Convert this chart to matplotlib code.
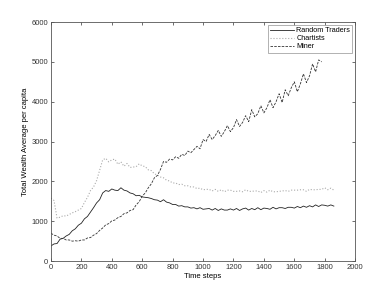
import matplotlib
matplotlib.use("Agg")
import matplotlib.pyplot as plt

plt.rcParams['font.family'] = ['Liberation Sans', 'DejaVu Sans']

# time steps (every 20)
t = list(range(0, 1861, 20))

random_traders = [
    380, 430, 440, 550, 570, 630, 670, 760, 810, 900,            # 0-180
    950, 1060, 1120, 1230, 1340, 1460, 1540, 1710, 1770, 1750,   # 200-380
    1810, 1780, 1770, 1840, 1780, 1760, 1710, 1690, 1640, 1650,  # 400-580
    1610, 1600, 1590, 1570, 1540, 1530, 1490, 1540, 1480, 1460,  # 600-780
    1420, 1420, 1380, 1390, 1360, 1360, 1330, 1340, 1310, 1340,  # 800-980
    1300, 1310, 1320, 1280, 1320, 1270, 1310, 1280, 1280, 1310,  # 1000-1180
    1280, 1320, 1270, 1310, 1330, 1280, 1320, 1290, 1340, 1290,  # 1200-1380
    1330, 1320, 1300, 1350, 1310, 1340, 1340, 1320, 1350, 1350,  # 1400-1580
    1330, 1370, 1340, 1380, 1350, 1390, 1360, 1410, 1370, 1410,  # 1600-1780
    1400, 1380, 1410, 1380,                                      # 1800-1860
]

chartists = [
    1580, 1520, 1080, 1100, 1140, 1130, 1170, 1210, 1240, 1280,  # 0-180
    1320, 1470, 1600, 1770, 1860, 2020, 2280, 2540, 2580, 2490,  # 200-380
    2540, 2560, 2430, 2490, 2380, 2450, 2350, 2360, 2370, 2440,  # 400-580
    2390, 2370, 2290, 2270, 2190, 2160, 2110, 2090, 2030, 2010,  # 600-780
    1960, 1960, 1920, 1930, 1890, 1890, 1860, 1860, 1820, 1830,  # 800-980
    1790, 1800, 1800, 1760, 1800, 1750, 1790, 1740, 1780, 1780,  # 1000-1180
    1750, 1750, 1760, 1740, 1790, 1750, 1750, 1760, 1760, 1720,  # 1200-1380
    1770, 1730, 1780, 1740, 1740, 1750, 1760, 1770, 1750, 1780,  # 1400-1580
    1780, 1780, 1790, 1790, 1750, 1800, 1790, 1790, 1800, 1800,  # 1600-1780
    1840, 1790, 1830, 1780,                                      # 1800-1860
]

t_miner = list(range(0, 1781, 20))
miner = [
    700, 650, 630, 570, 570, 530, 530, 500, 510, 500,            # 0-180
    530, 530, 580, 590, 650, 690, 770, 830, 910, 940,            # 200-380
    1010, 1030, 1090, 1120, 1190, 1210, 1270, 1290, 1410, 1490,  # 400-580
    1630, 1710, 1840, 1940, 2090, 2150, 2300, 2500, 2480, 2560,  # 600-780
    2540, 2620, 2580, 2680, 2650, 2760, 2720, 2800, 2880, 2820,  # 800-980
    3050, 3000, 3180, 3050, 3150, 3280, 3130, 3250, 3400, 3250,  # 1000-1180
    3350, 3550, 3380, 3480, 3650, 3500, 3800, 3620, 3700, 3900,  # 1200-1380
    3720, 3850, 4050, 3850, 4000, 4200, 3980, 4300, 4150, 4350,  # 1400-1580
    4500, 4250, 4450, 4700, 4480, 4650, 4950, 4750, 5050, 5000,  # 1600-1780
]

fig = plt.figure(figsize=(3.92, 2.94), dpi=100)
ax = fig.add_axes([0.130, 0.112, 0.776, 0.813])

ax.plot(t, random_traders, color='#222222', lw=0.6, ls='-', label='Random Traders')
ax.plot(t, chartists, color='#aaaaaa', lw=0.8, ls=':', label='Chartists')
ax.plot(t_miner, miner, color='#333333', lw=0.6, ls='--', dashes=(3, 1.5), label='Miner')

ax.set_xlim(0, 2000)
ax.set_ylim(0, 6000)
ax.set_xticks(range(0, 2001, 200))
ax.set_yticks(range(0, 6001, 1000))
ax.tick_params(direction='in', length=2.5, width=0.5, labelsize=5.5,
               top=True, right=True, pad=2, colors='#333333')
for s in ax.spines.values():
    s.set_linewidth(0.6)
    s.set_color('#555555')

ax.set_xlabel('Time steps', fontsize=5.5, labelpad=1.5)
ax.set_ylabel('Total Wealth Average per capita', fontsize=5.5, labelpad=1.5)

leg = ax.legend(loc='upper right', fontsize=5.2, handlelength=3.3, frameon=True,
                fancybox=False, borderpad=0.3, labelspacing=0.15,
                handletextpad=0.3, borderaxespad=0.4)
leg.get_frame().set_linewidth(0.5)
leg.get_frame().set_edgecolor('#777777')

fig.savefig('out.png', dpi=100)
